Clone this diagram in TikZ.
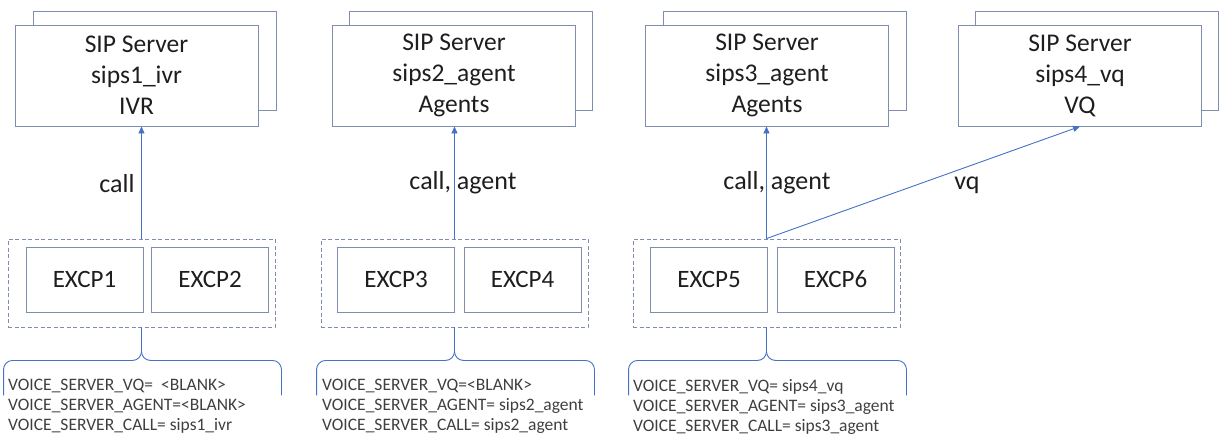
\documentclass[tikz,border=0pt]{standalone}
\usepackage{fontspec}
\setmainfont{Carlito}
\usetikzlibrary{arrows.meta,calc}
\definecolor{boxline}{HTML}{7F8DAE}
\definecolor{linkblue}{HTML}{4472C4}
\definecolor{ink}{HTML}{1E1E1E}
\definecolor{note}{HTML}{3F3F3F}
\tikzset{
  server/.style={draw=boxline, fill=white, line width=0.9pt, minimum width=243pt,
    minimum height=101pt, inner sep=0pt, align=center,
    font=\fontsize{25.5}{31}\selectfont, text=ink},
  shadowbox/.style={draw=boxline, fill=white, line width=0.9pt,
    minimum width=243pt, minimum height=99pt, inner sep=0pt},
  excp/.style={draw=boxline, line width=0.9pt, minimum width=117pt,
    minimum height=65pt, inner sep=0pt, font=\fontsize{25}{28}\selectfont, text=ink},
  group/.style={draw=boxline, dash pattern=on 4pt off 2.5pt, line width=0.9pt,
    minimum width=267pt, minimum height=88pt, inner sep=0pt},
  link/.style={draw=linkblue, line width=0.9pt, -{Triangle[length=7pt,width=6pt]}},
  brace/.style={draw=linkblue, line width=0.9pt, rounded corners=9pt},
  lbl/.style={font=\fontsize{26}{28}\selectfont, text=ink, inner sep=0pt},
  notes/.style={font=\fontsize{17.5}{20}\selectfont, text=note, align=left,
    anchor=north west, inner sep=0pt},
}
% curly brace hanging below a group of EXCP nodes
\newcommand\groupbrace[1]{%
  \draw[brace] ($(#1.south west)+(-4,68)$) |- ($(#1.south)+(0,33)$) -- (#1.south);
  \draw[brace] ($(#1.south east)+(6,68)$) |- ($(#1.south)+(0,33)$) -- (#1.south);
}
\begin{document}
\begin{tikzpicture}[x=1pt,y=-1pt]
\useasboundingbox (0,0) rectangle (1221,437);

% SIP servers (each with a stacked duplicate behind it)
\node[shadowbox] (s1b) at (154.5,60.5) {};
\node[server] (s1) at (136.5,75.5) {SIP Server\\sips1\_ivr\\IVR};
\node[shadowbox] (s2b) at (471,60.5) {};
\node[server] (s2) at (454,75.5) {SIP Server\\sips2\_agent\\Agents};
\node[shadowbox] (s3b) at (785,60.5) {};
\node[server] (s3) at (767,75.5) {SIP Server\\sips3\_agent\\Agents};
\node[shadowbox] (s4b) at (1097,60.5) {};
\node[server] (s4) at (1080,75.5) {SIP Server\\sips4\_vq\\VQ};

% EXCP pairs
\node[group] (g1) at (141.5,283) {};
\node[group] (g2) at (454.5,283) {};
\node[group] (g3) at (766.5,283) {};
\node[excp] (e1) at (84.5,279.5) {EXCP1};
\node[excp] (e2) at (210,279.5) {EXCP2};
\node[excp] (e3) at (396,279.5) {EXCP3};
\node[excp] (e4) at (522.5,279.5) {EXCP4};
\node[excp] (e5) at (709,279.5) {EXCP5};
\node[excp] (e6) at (835.5,279.5) {EXCP6};

% connections
\draw[link] (g1.north) -- (g1.north |- s1.south);
\draw[link] (g2.north) -- (g2.north |- s2.south);
\draw[link] (g3.north) -- (g3.north |- s3.south);
\draw[link] (g3.north) -- (s4.south);

\node[lbl] (l1) at (117,184) {call};
\node[lbl] (l2) at (463,183) {call, agent};
\node[lbl] (l3) at (777,183) {call, agent};
\node[lbl] (l4) at (967,185) {vq};

% configuration notes
\groupbrace{g1}
\groupbrace{g2}
\groupbrace{g3}
\node[notes] (n1) at (8,379) {VOICE\_SERVER\_VQ=\ \ <BLANK>\\VOICE\_SERVER\_AGENT=<BLANK>\\VOICE\_SERVER\_CALL= sips1\_ivr};
\node[notes] (n2) at (322,379) {VOICE\_SERVER\_VQ=<BLANK>\\VOICE\_SERVER\_AGENT= sips2\_agent\\VOICE\_SERVER\_CALL= sips2\_agent};
\node[notes] (n3) at (633,379) {VOICE\_SERVER\_VQ= sips4\_vq\\VOICE\_SERVER\_AGENT= sips3\_agent\\VOICE\_SERVER\_CALL= sips3\_agent};
\end{tikzpicture}
\end{document}
